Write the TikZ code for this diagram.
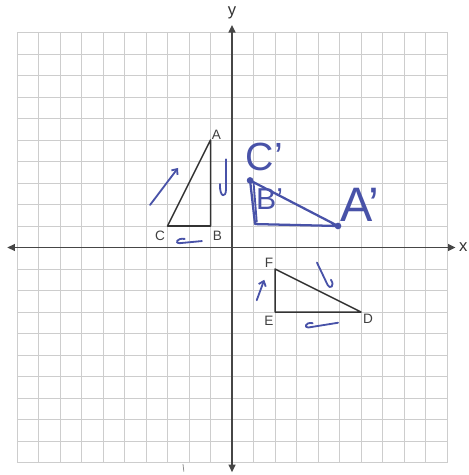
\documentclass[tikz,border=0pt]{standalone}
\usepackage{fontspec}
\setmainfont{Liberation Sans}
\usetikzlibrary{arrows.meta}
\definecolor{ink}{RGB}{72,82,168}
\definecolor{gridc}{RGB}{205,205,205}
\definecolor{axisc}{RGB}{70,70,70}
\begin{document}
\begin{tikzpicture}[x=0.5cm,y=0.5cm,
  gridline/.style={gridc,line width=0.4pt},
  axisline/.style={axisc,line width=1.1pt,-{Triangle[length=5pt,width=4.5pt]}},
  tri/.style={black!80,line width=1pt,line join=round},
  ptlabel/.style={font=\fontsize{9}{10}\selectfont,text=black!75,inner sep=0pt},
  axlabel/.style={font=\fontsize{11}{12}\selectfont,text=black!80,inner sep=0pt},
  hand/.style={ink,line width=1.2pt,line cap=round,line join=round},
  handarrow/.style={hand,-{Straight Barb[length=3pt,width=5pt]}},
  handlabel/.style={text=ink,inner sep=0pt}
]
\useasboundingbox (-10.79,-10.58) rectangle (10.98,11.51);
\fill[white] (-10.79,-10.58) rectangle (10.98,11.51);
% grid
\foreach \i in {-10,...,10}{
  \draw[gridline] (\i,-10) -- (\i,10);
  \draw[gridline] (-10,\i) -- (10,\i);
}
% axes
\coordinate (o) at (0,0);
\coordinate (xl) at (-10.45,0);
\coordinate (xr) at (10.4,0);
\coordinate (yb) at (0,-10.45);
\coordinate (yt) at (0,10.35);
\draw[axisline] (o) -- (xr);
\draw[axisline] (o) -- (xl);
\draw[axisline] (o) -- (yt);
\draw[axisline] (o) -- (yb);
\node[axlabel] (xlab) at (10.75,0) {x};
\node[axlabel] (ylab) at (0,10.9) {y};
% stray mark
\draw[black!45,line width=0.5pt] (-2.28,-10.07) -- (-2.24,-10.42);
% triangle ABC
\coordinate (A) at (-1,5);
\coordinate (B) at (-1,1);
\coordinate (C) at (-3,1);
\draw[tri] (A) -- (B) -- (C) -- cycle;
\node[ptlabel] (lA) at (-0.72,5.22) {A};
\node[ptlabel] (lB) at (-0.68,0.53) {B};
\node[ptlabel] (lC) at (-3.35,0.53) {C};
% triangle DEF
\coordinate (D) at (6,-3);
\coordinate (E) at (2,-3);
\coordinate (F) at (2,-1);
\draw[tri] (D) -- (E) -- (F) -- cycle;
\node[ptlabel] (lF) at (1.72,-0.72) {F};
\node[ptlabel] (lE) at (1.72,-3.42) {E};
\node[ptlabel] (lD) at (6.33,-3.33) {D};
% handwritten image A'B'C'
\coordinate (Cp) at (0.84,3.12);
\coordinate (Bp) at (1.07,1.09);
\coordinate (Ap) at (4.93,1.0);
\draw[hand,line width=1.5pt] (Cp) -- (Bp) -- (Ap) -- cycle;
\draw[hand] (1.0,3.05) -- (1.15,1.2);
\fill[ink] (Cp) circle (2.2pt);
\fill[ink] (Ap) circle (2.2pt);
\node[handlabel,font=\fontsize{32}{34}\selectfont] (lAp) at (5.95,1.98) {A'};
\node[handlabel,font=\fontsize{26}{28}\selectfont] (lCp) at (1.5,4.2) {C'};
\node[handlabel,font=\fontsize{20}{22}\selectfont] (lBp) at (1.75,2.25) {B'};
% handwritten arrows
\coordinate (h1s) at (-3.81,1.98);
\coordinate (h1e) at (-2.51,3.70);
\draw[handarrow] (h1s) -- (h1e);
\draw[hand] (-0.28,4.1) -- (-0.28,2.7) .. controls (-0.28,2.3) and (-0.58,2.3) .. (-0.56,2.95);
\draw[hand] (-1.4,0.3) -- (-2.45,0.2) .. controls (-2.65,0.18) and (-2.6,0.45) .. (-2.2,0.4);
\coordinate (h4s) at (1.15,-2.45);
\coordinate (h4e) at (1.5,-1.5);
\draw[handarrow] (h4s) -- (h4e);
\draw[hand] (3.95,-0.7) -- (4.45,-1.75) .. controls (4.55,-1.95) and (4.8,-1.8) .. (4.6,-1.5);
\draw[hand] (4.93,-3.5) -- (3.55,-3.72) .. controls (3.35,-3.75) and (3.4,-3.45) .. (3.75,-3.52);
\end{tikzpicture}
\end{document}
